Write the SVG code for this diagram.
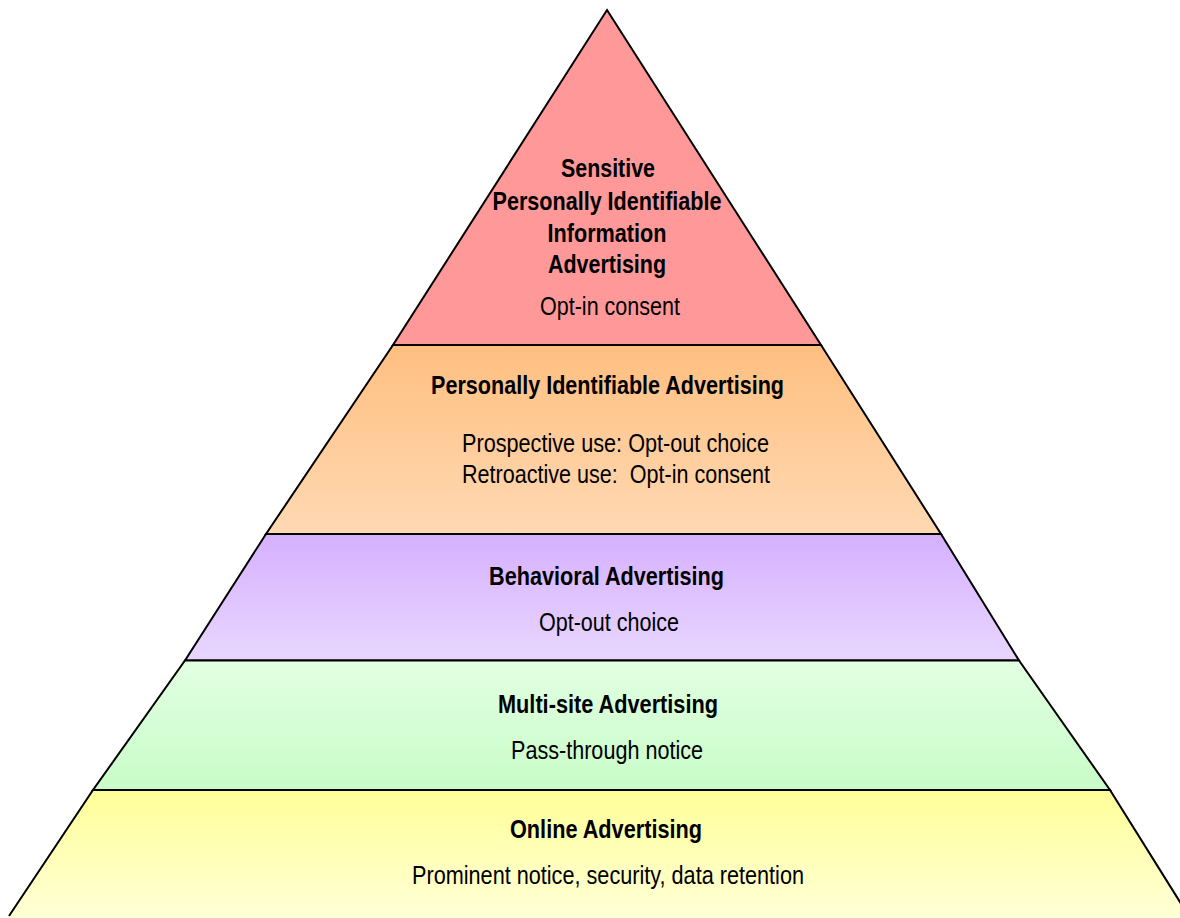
<svg xmlns="http://www.w3.org/2000/svg" width="1180" height="918" viewBox="0 0 1180 918">
<defs>
<linearGradient id="gOrange" x1="0" y1="0" x2="0" y2="1"><stop offset="0" stop-color="#FFBF80"/><stop offset="1" stop-color="#FFD9B3"/></linearGradient>
<linearGradient id="gPurple" x1="0" y1="0" x2="0" y2="1"><stop offset="0" stop-color="#D6B0FF"/><stop offset="1" stop-color="#E8D6FF"/></linearGradient>
<linearGradient id="gGreen" x1="0" y1="0" x2="0" y2="1"><stop offset="0" stop-color="#E2FFE2"/><stop offset="1" stop-color="#C8FCC8"/></linearGradient>
<linearGradient id="gYellow" x1="0" y1="0" x2="0" y2="1"><stop offset="0" stop-color="#FFFF99"/><stop offset="1" stop-color="#FFFFD6"/></linearGradient>
</defs>
<style>
.band{stroke:#000;stroke-width:2;stroke-linejoin:miter}
.t{font-family:"Liberation Sans",Arial,sans-serif;font-size:25px;fill:#000;text-anchor:middle}
.b{font-weight:bold}
</style>
<rect width="1180" height="918" fill="#fff"/>
<g id="band-sensitive">
<polygon class="band" points="607,10 821,345 393,345" fill="#FF9999"/>
<text class="t b" x="608" y="177" textLength="94" lengthAdjust="spacingAndGlyphs">Sensitive</text>
<text class="t b" x="607" y="210" textLength="229" lengthAdjust="spacingAndGlyphs">Personally Identifiable</text>
<text class="t b" x="607" y="242" textLength="119" lengthAdjust="spacingAndGlyphs">Information</text>
<text class="t b" x="607" y="273" textLength="118" lengthAdjust="spacingAndGlyphs">Advertising</text>
<text class="t" x="610" y="315" textLength="140" lengthAdjust="spacingAndGlyphs">Opt-in consent</text>
</g>
<g id="band-pii">
<polygon class="band" points="393,345 821,345 941,534 266,534" fill="url(#gOrange)"/>
<text class="t b" x="607.5" y="394" textLength="353" lengthAdjust="spacingAndGlyphs">Personally Identifiable Advertising</text>
<text class="t" x="615.5" y="452" textLength="307" lengthAdjust="spacingAndGlyphs">Prospective use: Opt-out choice</text>
<text class="t" x="616" y="483" textLength="308" lengthAdjust="spacingAndGlyphs" xml:space="preserve">Retroactive use:  Opt-in consent</text>
</g>
<g id="band-behavioral">
<polygon class="band" points="266,534 941,534 1019,660.5 185,660.5" fill="url(#gPurple)"/>
<text class="t b" x="606.5" y="585" textLength="235" lengthAdjust="spacingAndGlyphs">Behavioral Advertising</text>
<text class="t" x="609" y="631" textLength="140" lengthAdjust="spacingAndGlyphs">Opt-out choice</text>
</g>
<g id="band-multisite">
<polygon class="band" points="185,660.5 1019,660.5 1110,790 93,790" fill="url(#gGreen)"/>
<text class="t b" x="608" y="713" textLength="220" lengthAdjust="spacingAndGlyphs">Multi-site Advertising</text>
<text class="t" x="607" y="759" textLength="192" lengthAdjust="spacingAndGlyphs">Pass-through notice</text>
</g>
<g id="band-online">
<path d="M93,790 L1110,790 L1190,918 L7,918 Z" fill="url(#gYellow)"/>
<path class="band" d="M9,916 L93,790 L1110,790 L1190,918" fill="none"/>
<text class="t b" x="606" y="838" textLength="192" lengthAdjust="spacingAndGlyphs">Online Advertising</text>
<text class="t" x="608" y="884" textLength="392" lengthAdjust="spacingAndGlyphs">Prominent notice, security, data retention</text>
</g>
<g id="connectors"></g>
</svg>
